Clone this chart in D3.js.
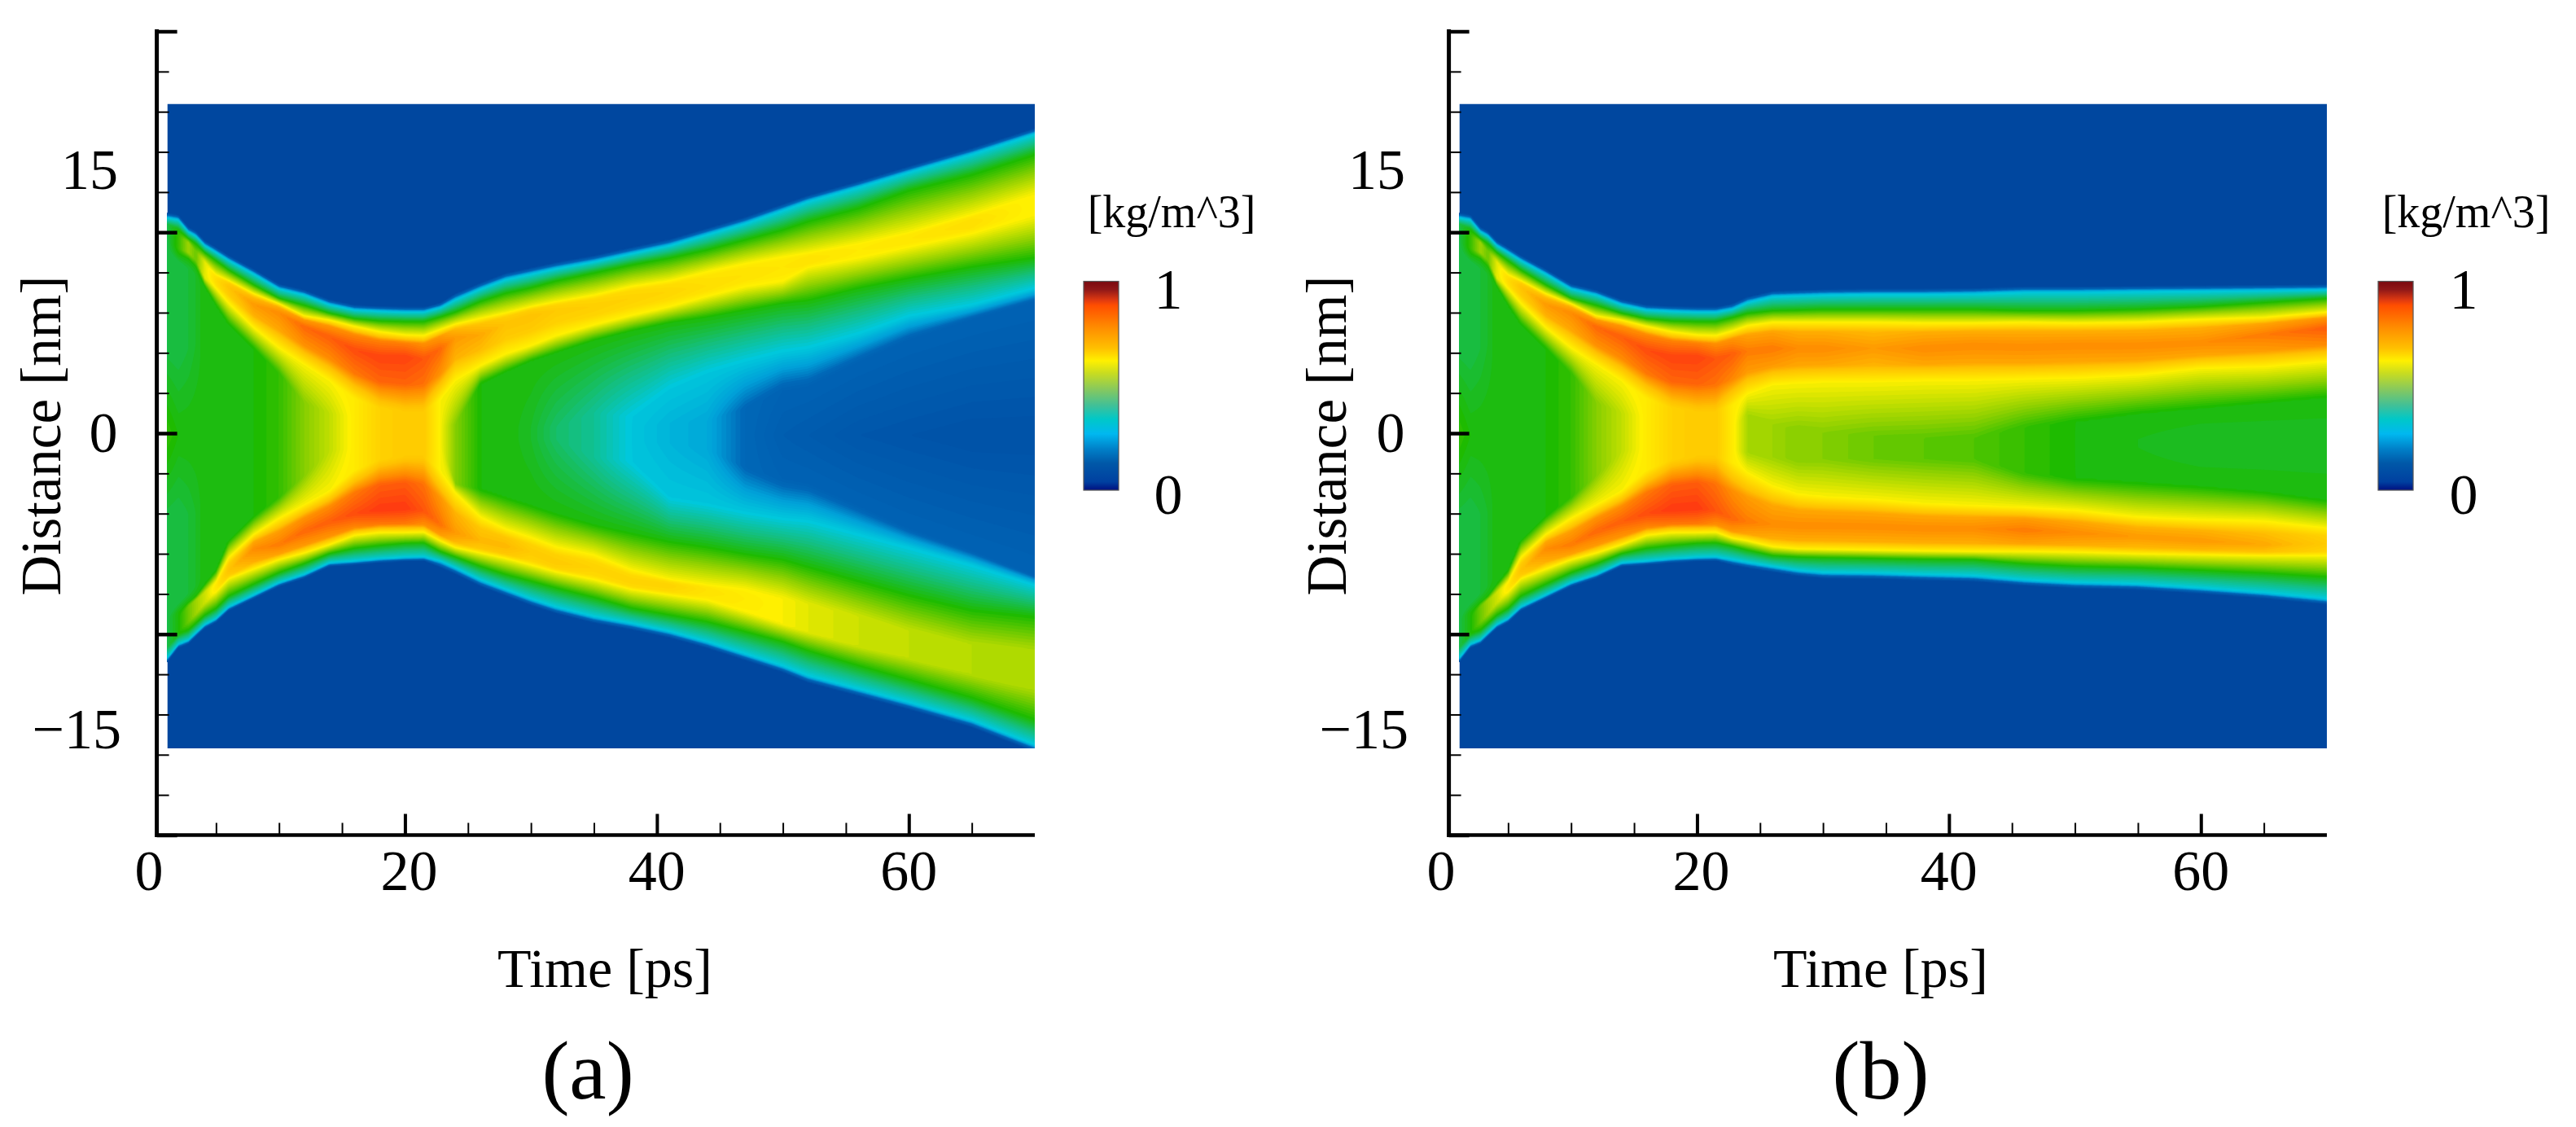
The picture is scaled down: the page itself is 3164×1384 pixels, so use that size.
<!DOCTYPE html>
<html>
<head>
<meta charset="utf-8">
<title>Density vs time</title>
<script src="https://cdn.jsdelivr.net/npm/d3@7"></script>
<style>
  html, body { margin: 0; background: #fff; }
  svg { display: block; }
  text { font-family: "Liberation Serif", serif; fill: #000; }
</style>
</head>
<body>
<svg id="chart" width="3164" height="1384"></svg>
<script>
// --- Axis values ---
const timeMajor = [20, 40, 60];
const timeMinor = [5, 10, 15, 25, 30, 35, 45, 50, 55, 65];
const timeLabels = [0, 20, 40, 60];
const distMajor = [-20, -10, 0, 10, 20];
const distMinor = [-18, -16, -14, -12, -8, -6, -4, -2, 2, 4, 6, 8, 12, 14, 16, 18];
const distLabels = ['15', '0', '\u221215'];
const barLabels = ['1', '0'];

// --- Colour maps (density -> colour). The colour bar is a bit paler than the field ---
const fieldLevels = [0, 0.14, 0.2, 0.27, 0.34, 0.42, 0.5, 0.6, 0.72, 0.8, 0.88, 1];
const fieldColours = ['#00479f', '#0068b8', '#00a0d8', '#00c8dc', '#14bf80', '#1ebb00', '#8cd000', '#fff000', '#ffc000', '#ff8800', '#ff3c10', '#7a0010'];
const barLevels = [0, 0.04, 0.13, 0.197, 0.27, 0.34, 0.405, 0.48, 0.56, 0.62, 0.68, 0.78, 0.885, 0.91, 0.96, 1];
const barColours = ['#001080', '#0040a0', '#0058a8', '#0080c8', '#00b8f0', '#00c8c8', '#40c098', '#84c860', '#c8dc20', '#fff000', '#ffc000', '#ff8c00', '#ff4e00', '#e03a10', '#901818', '#7a0a10'];

// --- Density field ---
// Each row follows one feature of the profile through time, in nm:
// blue edge, cyan, green, yellow, crest, inner yellow, inner green, inner cyan, inner blue.
// Both panels are the same run up to about 21.5 ps.
const earlyTimes = [1.1, 2, 2.8, 3.4, 4.1, 5, 6, 8, 10, 12, 14, 16, 18, 20, 21.5];
const earlyUpper = [
  [10.98, 10.88, 10.28, 10.07, 9.6, 9.26, 8.86, 8.18, 7.44, 7.14, 6.66, 6.39, 6.33, 6.29, 6.29],
  [10.73, 10.63, 10.03, 9.82, 9.35, 9.01, 8.61, 7.93, 7.19, 6.89, 6.41, 6.14, 6.08, 6.04, 6.04],
  [10.43, 10.15, 9.7, 9.45, 9.0, 8.6, 8.14, 7.39, 6.72, 6.38, 5.98, 5.71, 5.6, 5.57, 5.57],
  [10.2, 9.85, 9.5, 9.05, 8.55, 7.9, 7.6, 6.95, 6.45, 5.84, 5.64, 5.33, 5.06, 4.9, 4.87],
  [9.9, 9.5, 9.28, 8.9, 8.3, 7.6, 7.3, 6.4, 6.0, 5.3, 4.8, 4.15, 3.8, 3.8, 3.7],
  [9.6, 9.2, 9.0, 8.6, 7.73, 7.19, 6.45, 5.23, 4.22, 3.41, 2.6, 1.73, 1.25, 1.1, 1.12],
  [9.3, 8.9, 8.68, 8.27, 7.33, 6.38, 5.44, 4.22, 3.0, 1.52, 1.0, 0.8, 0.6, 0.5, 0.4],
  [9.0, 8.5, 8.2, 7.9, 6.9, 6, 5, 3.8, 2.6, 1.2, 0.6, 0.5, 0.4, 0.3, 0.3],
  [4.5, 4.2, 4.2, 4.5, 3, 2, 1.5, 1, 0.6, 0.4, 0.3, 0.3, 0.2, 0.2, 0.2]
];
const earlyLower = [
  [-11.43, -10.7, -10.5, -10.14, -9.73, -9.43, -8.85, -8.25, -7.64, -7.23, -6.65, -6.56, -6.45, -6.38, -6.36],
  [-11.23, -10.51, -10.31, -9.95, -9.54, -9.24, -8.66, -8.06, -7.45, -7.04, -6.46, -6.37, -6.26, -6.19, -6.17],
  [-10.69, -10.01, -9.81, -9.47, -9.07, -8.73, -8.12, -7.52, -6.95, -6.5, -6.0, -5.74, -5.6, -5.49, -5.47],
  [-10.49, -9.88, -9.41, -9.0, -8.46, -7.92, -7.25, -6.77, -6.3, -5.97, -5.56, -5.09, -4.95, -4.95, -4.93],
  [-10.08, -9.61, -9.0, -8.66, -8.19, -7.65, -6.84, -5.76, -5.56, -4.89, -4.41, -4.01, -3.81, -3.74, -3.87],
  [-9.7, -9.2, -8.6, -8.3, -7.92, -7.38, -6.17, -5.02, -4.21, -3.54, -2.86, -1.85, -1.31, -1.17, -1.17],
  [-9.3, -8.9, -8.4, -8.1, -7.52, -6.84, -5.36, -4.14, -3.2, -2.12, -0.9, -0.7, -0.6, -0.5, -0.5],
  [-9.0, -8.4, -8.0, -7.6, -7.0, -6.4, -5, -3.8, -2.9, -1.8, -0.7, -0.6, -0.5, -0.4, -0.4],
  [-4.5, -4.2, -4.0, -4, -3, -2, -1.5, -1, -0.6, -0.4, -0.3, -0.3, -0.25, -0.2, -0.2]
];
const earlyCrestUpper = [0.38, 0.44, 0.52, 0.48, 0.58, 0.66, 0.72, 0.78, 0.8, 0.84, 0.85, 0.87, 0.88, 0.88, 0.86];
const earlyCrestLower = [0.38, 0.42, 0.48, 0.52, 0.56, 0.63, 0.72, 0.8, 0.82, 0.84, 0.85, 0.87, 0.89, 0.89, 0.86];
const earlyCentre = [0.44, 0.42, 0.42, 0.42, 0.42, 0.42, 0.42, 0.42, 0.44, 0.5, 0.55, 0.62, 0.68, 0.7, 0.7];
const earlyShoulder = [0.38, 0.38, 0.39, 0.4, 0.42, 0.42, 0.42, 0.42, 0.44, 0.5, 0.55, 0.62, 0.68, 0.7, 0.7];
const earlyCentreAt = [-0.1, -0.1, -0.1, -0.1, -0.1, -0.1, -0.1, -0.1, -0.1, -0.1, -0.1, -0.1, -0.1, -0.1, -0.1];

// Panel (a): the film splits into two sheets
const lateTimesA = [22.8, 24, 26, 28, 30, 32, 35, 38, 41, 44, 47, 50, 52, 56, 60, 65, 70];
const lateUpperA = [
  [6.5, 6.97, 7.5, 7.98, 8.25, 8.52, 8.86, 9.27, 9.67, 10.22, 10.77, 11.42, 11.85, 12.55, 13.3, 14.2, 15.2],
  [6.25, 6.65, 7.19, 7.66, 7.93, 8.2, 8.54, 8.95, 9.35, 9.9, 10.45, 11.1, 11.55, 12.25, 13.0, 13.9, 14.9],
  [5.8, 6.04, 6.58, 6.99, 7.26, 7.6, 8.0, 8.4, 8.74, 9.15, 9.65, 10.15, 10.57, 11.23, 12.12, 12.9, 13.9],
  [5.17, 5.44, 5.73, 6.0, 6.31, 6.56, 6.89, 7.33, 7.6, 8.07, 8.47, 8.81, 9.0, 9.46, 10.01, 10.9, 11.9],
  [4.2, 4.76, 4.9, 5.44, 5.84, 6.11, 6.31, 6.72, 7.06, 7.33, 7.87, 8.27, 8.57, 9.12, 9.68, 10.45, 11.34],
  [1.66, 2.6, 3.34, 3.92, 4.33, 4.83, 5.37, 5.84, 6.27, 6.79, 7.26, 7.53, 8.23, 8.68, 9.23, 9.9, 10.79],
  [0.3, 0.44, 2.47, 3.07, 3.61, 4.02, 4.63, 5.1, 5.5, 5.77, 6.11, 6.45, 6.57, 7.19, 7.68, 8.23, 8.68],
  [0.2, 0.3, 0.3, 0.3, 0.3, 0.3, 1.0, 0.8, 2.2, 3.0, 3.55, 4.02, 4.2, 4.9, 5.79, 6.35, 7.19],
  [0.15, 0.2, 0.2, 0.2, 0.2, 0.2, 0.2, 0.3, 0.5, 0.6, 1.25, 2.13, 2.35, 3.57, 4.68, 5.68, 6.57]
];
const lateLowerA = [
  [-6.7, -7.03, -7.64, -8.11, -8.58, -8.99, -9.46, -9.8, -10.2, -10.72, -11.32, -11.92, -12.44, -13.1, -13.77, -14.66, -15.88],
  [-6.37, -6.71, -7.32, -7.79, -8.26, -8.67, -9.14, -9.48, -9.88, -10.4, -11.0, -11.6, -12.09, -12.75, -13.42, -14.31, -15.53],
  [-5.9, -6.17, -6.64, -7.05, -7.38, -7.72, -8.19, -8.73, -9.07, -9.41, -9.9, -10.4, -10.85, -11.6, -12.3, -13.2, -14.31],
  [-5.36, -5.7, -5.97, -6.24, -6.57, -6.91, -7.3, -7.79, -8.06, -8.33, -8.9, -9.5, -9.9, -10.6, -11.2, -12.0, -12.8],
  [-4.55, -4.96, -5.36, -5.63, -5.9, -6.44, -6.71, -7.38, -7.59, -7.79, -8.25, -8.7, -9.0, -9.8, -10.5, -11.3, -11.64],
  [-1.85, -2.93, -4.15, -4.75, -5.16, -5.63, -6.03, -6.78, -7.25, -7.52, -7.72, -8.2, -8.5, -9.1, -9.8, -10.5, -10.75],
  [-0.3, -2.53, -2.8, -3.2, -3.6, -4.01, -4.55, -4.96, -5.36, -5.63, -5.97, -6.24, -6.6, -7.3, -8.0, -8.75, -9.09],
  [-0.25, -0.3, -0.3, -0.3, -0.3, -0.3, -1.2, -1.4, -3.2, -3.5, -3.9, -4.2, -4.31, -4.98, -5.65, -6.53, -7.53],
  [-0.2, -0.25, -0.25, -0.25, -0.25, -0.25, -0.35, -0.4, -0.5, -0.8, -1.7, -2.3, -2.54, -3.65, -4.76, -5.87, -7.09]
];
const lateCrestUpperA = [0.84, 0.78, 0.76, 0.72, 0.72, 0.7, 0.69, 0.68, 0.67, 0.65, 0.64, 0.63, 0.64, 0.62, 0.63, 0.65, 0.6];
const lateCrestLowerA = [0.83, 0.78, 0.74, 0.74, 0.7, 0.7, 0.68, 0.68, 0.68, 0.64, 0.62, 0.6, 0.58, 0.56, 0.55, 0.54, 0.53];
const lateCentreA = [0.6, 0.5, 0.42, 0.42, 0.4, 0.36, 0.33, 0.27, 0.24, 0.22, 0.14, 0.1, 0.09, 0.07, 0.06, 0.05, 0.05];
const lateCentreAtA = [-0.1, -0.1, -0.1, -0.1, -0.1, -0.1, -0.1, -0.1, -0.1, -0.1, -0.1, -0.1, -0.1, -0.1, -0.1, -0.1, -0.1];

// Panel (b): the film stays together
const lateTimesB = [22.8, 24, 26, 28, 30, 34, 38, 42, 46, 50, 55, 60, 65, 70];
const lateUpperB = [
  [6.46, 6.8, 7.09, 7.13, 7.17, 7.2, 7.2, 7.23, 7.31, 7.31, 7.34, 7.36, 7.39, 7.42],
  [6.18, 6.52, 6.81, 6.85, 6.89, 6.92, 6.92, 6.95, 7.03, 7.03, 7.06, 7.08, 7.11, 7.14],
  [5.77, 5.98, 6.11, 6.14, 6.18, 6.18, 6.18, 6.18, 6.11, 6.11, 6.18, 6.31, 6.52, 6.72],
  [5.1, 5.37, 5.54, 5.54, 5.54, 5.54, 5.5, 5.5, 5.54, 5.5, 5.54, 5.68, 5.77, 6.04],
  [3.95, 4.09, 4.22, 4.22, 4.22, 4.22, 4.22, 4.36, 4.29, 4.36, 4.36, 4.49, 4.9, 5.23],
  [1.39, 1.93, 2.4, 2.47, 2.53, 2.53, 2.6, 2.6, 2.67, 2.71, 2.87, 3.21, 3.28, 3.55],
  [0.3, 0.98, 0.44, 0.17, 0.04, -0.1, -0.23, -0.23, 0.31, 0.58, 0.98, 1.25, 1.52, 1.79],
  [-0.3, -0.3, -0.3, -0.3, -0.3, -0.3, -0.3, -0.3, -0.3, -0.3, -0.3, -0.3, -0.3, -0.3],
  [-0.4, -0.4, -0.4, -0.4, -0.4, -0.4, -0.4, -0.4, -0.4, -0.4, -0.4, -0.4, -0.4, -0.4]
];
const lateLowerB = [
  [-6.58, -6.72, -6.92, -7.12, -7.23, -7.26, -7.33, -7.39, -7.6, -7.73, -7.8, -8.0, -8.23, -8.54],
  [-6.3, -6.44, -6.64, -6.84, -6.95, -6.98, -7.05, -7.11, -7.32, -7.45, -7.52, -7.72, -7.95, -8.26],
  [-5.63, -5.83, -6.1, -6.17, -6.2, -6.24, -6.28, -6.3, -6.51, -6.64, -6.71, -6.84, -6.98, -7.18],
  [-5.23, -5.36, -5.66, -5.77, -5.79, -5.83, -5.87, -5.9, -5.9, -5.93, -6.01, -6.06, -6.1, -6.1],
  [-4.28, -4.42, -4.55, -4.62, -4.62, -4.66, -4.75, -4.75, -4.82, -4.96, -5.16, -5.36, -5.56, -5.5],
  [-1.45, -1.92, -2.59, -3.0, -3.13, -3.27, -3.47, -3.58, -3.67, -3.81, -4.15, -4.28, -4.35, -4.69],
  [-0.8, -1, -1.2, -1.3, -1.3, -1.3, -1.3, -1.3, -1.99, -2.26, -2.46, -2.66, -2.93, -3.34],
  [-0.7, -0.7, -0.7, -0.7, -0.7, -0.7, -0.7, -0.7, -0.7, -0.7, -0.7, -0.7, -0.7, -0.7],
  [-0.65, -0.65, -0.65, -0.65, -0.65, -0.65, -0.65, -0.65, -0.65, -0.65, -0.65, -0.65, -0.65, -0.65]
];
const lateCrestUpperB = [0.85, 0.82, 0.82, 0.8, 0.8, 0.78, 0.8, 0.8, 0.8, 0.8, 0.8, 0.8, 0.82, 0.85];
const lateCrestLowerB = [0.84, 0.82, 0.8, 0.8, 0.8, 0.8, 0.8, 0.8, 0.82, 0.8, 0.78, 0.78, 0.76, 0.7];
const lateCentreB = [0.62, 0.53, 0.52, 0.5, 0.5, 0.48, 0.47, 0.46, 0.44, 0.42, 0.41, 0.4, 0.4, 0.4];
const lateCentreAtB = [-0.6, -0.6, -0.6, -0.6, -0.6, -0.6, -0.6, -0.6, -0.6, -0.6, -0.6, -0.6, -0.6, -0.6];

// --- Layout ---
const panelA = {
  name: '(a)', left: 188, barX: 1331, barLabelX: 1435, unitX: 1439, timeX: 743, capX: 722,
  yTitleX: 74, distLabelX: [110, 127, 149], axisX: 192.6,
  times: earlyTimes.concat(lateTimesA),
  upper: earlyUpper.map((r, i) => r.concat(lateUpperA[i])),
  lower: earlyLower.map((r, i) => r.concat(lateLowerA[i])),
  crestUpper: earlyCrestUpper.concat(lateCrestUpperA),
  crestLower: earlyCrestLower.concat(lateCrestLowerA),
  centre: earlyCentre.concat(lateCentreA),
  shoulder: earlyShoulder.concat(lateCentreA),
  centreAt: earlyCentreAt.concat(lateCentreAtA)
};
const panelB = {
  name: '(b)', left: 1775, barX: 2921, barLabelX: 3026, unitX: 3029, timeX: 2310, capX: 2310,
  yTitleX: 1653, distLabelX: [1691, 1708, 1730], axisX: 1779.6,
  times: earlyTimes.concat(lateTimesB),
  upper: earlyUpper.map((r, i) => r.concat(lateUpperB[i])),
  lower: earlyLower.map((r, i) => r.concat(lateLowerB[i])),
  crestUpper: earlyCrestUpper.concat(lateCrestUpperB),
  crestLower: earlyCrestLower.concat(lateCrestLowerB),
  centre: earlyCentre.concat(lateCentreB),
  shoulder: earlyShoulder.concat(lateCentreB),
  centreAt: earlyCentreAt.concat(lateCentreAtB)
};

const svg = d3.select('#chart');
const y = d3.scaleLinear().domain([-20, 20]).range([1025.5, 38.5]);
const fieldColour = d3.scaleLinear().domain(fieldLevels).range(fieldColours).clamp(true);

// One side of a profile, outermost knot first. The crest is flat topped in the picture,
// so it gets a shoulder knot on each side.
function sideKnots(rows, crest, s, i) {
  const inner = (level) => Math.min(crest, Math.max(level, s));
  const yellowOut = Math.min(0.6, crest), yellowIn = inner(0.6);
  const at = (k) => rows[k][i];
  return [
    [at(0), 0],
    [at(1), 0.27],
    [at(2), Math.min(0.42, crest)],
    [at(3), yellowOut],
    [at(4) + 0.65 * (at(3) - at(4)), crest - 0.25 * (crest - yellowOut)],
    [at(4), crest],
    [at(4) + 0.5 * (at(5) - at(4)), crest - 0.2 * (crest - yellowIn)],
    [at(5), yellowIn],
    [at(6), inner(0.42)],
    [at(7), Math.max(0.27, s)],
    [at(8), Math.max(0.12, s)]
  ];
}

// Profile of one column as knots [distance, density], top to bottom
function profile(p, i) {
  const s = p.shoulder[i];
  const up = sideKnots(p.upper, p.crestUpper[i], s, i);
  const low = sideKnots(p.lower, p.crestLower[i], s, i);
  return up.concat([[p.centreAt[i], p.centre[i]]], low.reverse());
}

// Knots are followed through time, so slanted bands keep their shape between columns
function sampleColumn(p, profiles, t, rows) {
  const j = Math.max(1, Math.min(p.times.length - 1, d3.bisectLeft(p.times, t)));
  const f = Math.max(0, (t - p.times[j - 1]) / (p.times[j] - p.times[j - 1]));
  const a = profiles[j - 1], b = profiles[j];
  const knots = a.map((k, m) => [k[0] + (b[m][0] - k[0]) * f, k[1] + (b[m][1] - k[1]) * f]);
  let m = 0;
  return rows.map((d) => {
    if (d >= knots[0][0]) return knots[0][1];
    if (d <= knots[knots.length - 1][0]) return knots[knots.length - 1][1];
    while (m < knots.length - 2 && d < knots[m + 1][0]) m++;
    const k0 = knots[m], k1 = knots[m + 1];
    return k0[1] + (k1[1] - k0[1]) * (k0[0] - d) / Math.max(1e-6, k0[0] - k1[0]);
  });
}

function drawPanel(p) {
  const x = d3.scaleLinear().domain([0, 70]).range([p.left, p.left + 1083]);
  const g = svg.append('g');

  // --- Field as stacked filled contours ---
  const top = 127.5, bottom = 919, right = x(70), left = x(1.13);
  const cell = 2;
  const cols = Math.ceil((right - left) / cell) + 3;
  const rows = Math.ceil((bottom - top) / cell) + 3;
  const rowDist = d3.range(rows).map((r) => y.invert(top + (r - 1) * cell));
  const profiles = p.times.map((t, i) => profile(p, i));
  const values = new Float64Array(cols * rows);
  for (let c = 0; c < cols; c++) {
    const t = x.invert(left + (c - 1) * cell);
    const col = sampleColumn(p, profiles, t, rowDist);
    for (let r = 0; r < rows; r++) values[r * cols + c] = col[r];
  }
  const levels = d3.range(0.01, 0.95, 0.01);
  const contours = d3.contours().size([cols, rows]).thresholds(levels)(values);
  const clipId = 'clip' + p.name.charAt(1);
  svg.append('clipPath').attr('id', clipId).append('rect')
    .attr('x', left).attr('y', top).attr('width', right - left).attr('height', bottom - top);
  const field = g.append('g').attr('clip-path', `url(#${clipId})`);
  field.append('rect')
    .attr('x', left).attr('y', top).attr('width', right - left).attr('height', bottom - top)
    .attr('fill', fieldColour(0));
  field.append('g')
    .attr('transform', `translate(${left - 1.5 * cell},${top - 1.5 * cell}) scale(${cell})`)
    .selectAll('path')
    .data(contours)
    .join('path')
    .attr('d', d3.geoPath())
    .attr('fill', (d) => fieldColour(d.value));

  // --- Axes: ticks point into the plot, labels are placed on their own ---
  const tickAxis = (axis, size, values, width) => {
    const a = g.append('g').call(axis.tickValues(values).tickSize(size).tickFormat(''));
    a.select('.domain').remove();
    a.selectAll('line').attr('stroke', '#000').attr('stroke-width', width);
    return a;
  };
  tickAxis(d3.axisTop(x), 15, timeMinor, 2).attr('transform', 'translate(0,1025.5)');
  tickAxis(d3.axisTop(x), 26, timeMajor, 4).attr('transform', 'translate(0,1025.5)');
  tickAxis(d3.axisRight(y), 15, distMinor, 2).attr('transform', `translate(${p.axisX},0)`);
  tickAxis(d3.axisRight(y), 25, distMajor, 4.5).attr('transform', `translate(${p.axisX},0)`);
  g.append('line').attr('x1', p.axisX).attr('x2', p.axisX).attr('y1', 36).attr('y2', 1028)
    .attr('stroke', '#000').attr('stroke-width', 5);
  g.append('line').attr('x1', p.axisX - 2).attr('x2', right).attr('y1', 1025.5).attr('y2', 1025.5)
    .attr('stroke', '#000').attr('stroke-width', 4.5);

  g.selectAll('.time-label').data(timeLabels).join('text')
    .attr('class', 'time-label')
    .attr('x', (d) => x(d) + (d === 0 ? -5 : d === 20 ? 5 : 0))
    .attr('y', 1093)
    .attr('text-anchor', 'middle')
    .attr('font-size', 70)
    .text((d) => d);
  const labelY = [232, 555, 919];
  const labelAnchor = ['middle', 'middle', 'end'];
  g.selectAll('.dist-label').data(distLabels).join('text')
    .attr('class', 'dist-label')
    .attr('x', (d, i) => p.distLabelX[i])
    .attr('y', (d, i) => labelY[i])
    .attr('text-anchor', (d, i) => labelAnchor[i])
    .attr('font-size', 70)
    .text((d) => d);

  g.append('text')
    .attr('transform', `translate(${p.yTitleX},535) rotate(-90)`)
    .attr('text-anchor', 'middle')
    .attr('font-size', 69)
    .text('Distance [nm]');
  g.append('text').attr('x', p.timeX).attr('y', 1212).attr('text-anchor', 'middle')
    .attr('font-size', 68).text('Time [ps]');
  g.append('text').attr('x', p.capX).attr('y', 1349).attr('text-anchor', 'middle')
    .attr('font-size', 102).text(p.name);

  // --- Colour bar ---
  const gradId = 'bar' + p.name.charAt(1);
  const grad = svg.append('linearGradient').attr('id', gradId)
    .attr('x1', 0).attr('x2', 0).attr('y1', 1).attr('y2', 0);
  grad.selectAll('stop').data(barLevels).join('stop')
    .attr('offset', (d) => d)
    .attr('stop-color', (d, i) => barColours[i]);
  const barY = d3.scaleLinear().domain([0, 1]).range([602, 345.5]);
  g.append('rect')
    .attr('x', p.barX).attr('y', barY(1))
    .attr('width', 43).attr('height', barY(0) - barY(1))
    .attr('fill', `url(#${gradId})`)
    .attr('stroke', '#555').attr('stroke-width', 1.2);
  g.selectAll('.bar-label').data(barLabels).join('text')
    .attr('class', 'bar-label')
    .attr('x', p.barLabelX)
    .attr('y', (d) => barY(+d) + (+d === 1 ? 33 : 29))
    .attr('text-anchor', 'middle')
    .attr('font-size', 70)
    .text((d) => d);
  g.append('text').attr('x', p.unitX).attr('y', 279).attr('text-anchor', 'middle')
    .attr('font-size', 56).text('[kg/m^3]');
}

drawPanel(panelA);
drawPanel(panelB);
</script>
</body>
</html>
